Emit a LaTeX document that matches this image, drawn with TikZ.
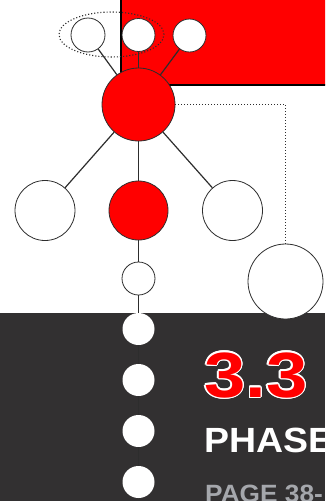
\documentclass[tikz,border=0pt]{standalone}
\usepackage{fontspec}
\setmainfont{Liberation Sans}
\usepackage{graphicx}
\usepackage{contour}
\usetikzlibrary{shapes.geometric}
\definecolor{band}{RGB}{50,48,49}
\definecolor{linec}{RGB}{45,45,45}
\definecolor{pagegray}{RGB}{165,167,172}
\definecolor{redf}{RGB}{255,0,0}
\begin{document}
\begin{tikzpicture}[x=1pt,y=-1pt,
  circ/.style={circle,draw=linec,line width=0.8pt,fill=white,inner sep=0pt,minimum size=#1},
  redcirc/.style={circle,draw=linec,line width=0.8pt,fill=redf,inner sep=0pt,minimum size=#1},
  dot/.style={circle,fill=white,inner sep=0pt,minimum size=32pt},
  conn/.style={draw=linec,line width=1.2pt},
  thin/.style={draw=linec,line width=0.8pt},
  dots/.style={draw=linec,line width=1pt,dotted}]
\useasboundingbox (0,0) rectangle (325,501);
\clip (0,0) rectangle (325,501);
% red rectangle
\fill[redf] (121,-5) rectangle (330,85);
\draw[black,line width=1.6pt] (121,-5) -- (121,85) -- (330,85);
% dark band
\fill[band] (0,313) rectangle (325,501);
% dotted ellipse
\node[ellipse,draw=linec,dotted,line width=1.1pt,minimum width=105pt,minimum height=45pt,inner sep=0pt] (ell) at (111.5,34.5) {};
% nodes
\node[circ=34pt] (t1) at (88,35) {};
\node[circ=33pt] (t2) at (138.5,35) {};
\node[circ=33pt] (t3) at (189.5,35.5) {};
\node[redcirc=73pt] (hub) at (138.5,104.5) {};
\node[circ=60pt] (m1) at (45,210.5) {};
\node[redcirc=59pt] (m2) at (138.5,210.5) {};
\node[circ=60pt] (m3) at (232.5,210.5) {};
\node[circ=33pt] (s1) at (138.5,278.5) {};
\node[circ=75pt] (br) at (285.5,281.5) {};
\node[dot] (d1) at (138.5,329) {};
\node[dot] (d2) at (138.5,380) {};
\node[dot] (d3) at (138.5,431) {};
\node[dot] (d4) at (138.5,482) {};
% connectors
\draw[conn] (hub) -- (t1);
\draw[conn] (hub) -- (t2);
\draw[conn] (hub) -- (t3);
\draw[conn] (hub) -- (m1);
\draw[conn] (hub) -- (m2);
\draw[conn] (hub) -- (m3);
\draw[conn] (m2) -- (s1);
\draw[thin] (s1) -- (d1);
\draw[thin] (d1) -- (d2);
\draw[thin] (d2) -- (d3);
\draw[thin] (d3) -- (d4);
\draw[dots] (hub.east) -| (br.north);
% text
\contourlength{1.1pt}
\node[anchor=base west,inner sep=0pt] (num) at (204,397) {\scalebox{1.16}[1]{\fontsize{64}{64}\selectfont\bfseries\contour{white}{\textcolor{redf}{3.3}}}};
\node[anchor=base west,inner sep=0pt,text=white] (phase) at (204.5,452) {\scalebox{1.07}[1]{\fontsize{35}{35}\selectfont\bfseries PHASE}};
\node[anchor=base west,inner sep=0pt,text=pagegray] (page) at (205,502) {\scalebox{1.05}[1]{\fontsize{25}{25}\selectfont\bfseries PAGE 38-}};
\end{tikzpicture}
\end{document}
